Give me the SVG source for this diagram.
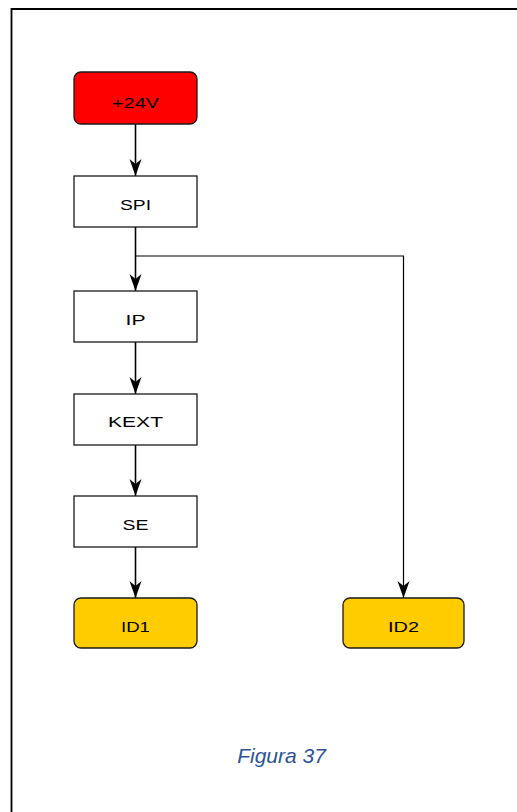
<svg xmlns="http://www.w3.org/2000/svg" width="517" height="812" viewBox="0 0 517 812">
<defs>
<style>
.box{fill:#ffffff;stroke:#1a1a1a;stroke-width:1.3}
.red{fill:#ff0000;stroke:#1a1a1a;stroke-width:1.3}
.yel{fill:#ffcc00;stroke:#1a1a1a;stroke-width:1.3}
.lbl{font-family:"Liberation Sans",Arial,sans-serif;font-size:14.5px;fill:#000;text-anchor:middle}
.edge{fill:none;stroke:#000;stroke-width:1.6}
.thin{fill:none;stroke:#000;stroke-width:1.2}
.cap{font-family:"Liberation Sans",Arial,sans-serif;font-size:21px;font-style:italic;fill:#2e5395;text-anchor:middle}
</style>
<marker id="ah" markerUnits="userSpaceOnUse" markerWidth="18" markerHeight="14" viewBox="-17 -7 18 14" refX="0" refY="0" orient="auto">
<path d="M0,0 L-17,-6 L-12,0 L-17,6 Z" fill="#000"/>
</marker>
</defs>
<rect width="517" height="812" fill="#ffffff"/>
<path d="M11.5,812 V9 H517" fill="none" stroke="#000" stroke-width="1.8"/>
<g id="connectors">
<line class="edge" x1="135.5" y1="124" x2="135.5" y2="176" marker-end="url(#ah)"/>
<line class="edge" x1="135.5" y1="227" x2="135.5" y2="291" marker-end="url(#ah)"/>
<polyline class="thin" points="136,256 403.5,256 403.5,598" marker-end="url(#ah)"/>
<line class="edge" x1="135.5" y1="342" x2="135.5" y2="394" marker-end="url(#ah)"/>
<line class="edge" x1="135.5" y1="445" x2="135.5" y2="496" marker-end="url(#ah)"/>
<line class="edge" x1="135.5" y1="547" x2="135.5" y2="598" marker-end="url(#ah)"/>
</g>
<g id="n24v"><rect class="red" x="74" y="72" width="123" height="52" rx="7"/><text class="lbl" x="135.5" y="107.5" textLength="47" lengthAdjust="spacingAndGlyphs">+24V</text></g>
<g id="spi"><rect class="box" x="74" y="176" width="123" height="51"/><text class="lbl" x="135.5" y="210" textLength="31" lengthAdjust="spacingAndGlyphs">SPI</text></g>
<g id="ip"><rect class="box" x="74" y="291" width="123" height="51"/><text class="lbl" x="135.5" y="325" textLength="20" lengthAdjust="spacingAndGlyphs">IP</text></g>
<g id="kext"><rect class="box" x="74" y="394" width="123" height="51"/><text class="lbl" x="135.5" y="427" textLength="55" lengthAdjust="spacingAndGlyphs">KEXT</text></g>
<g id="se"><rect class="box" x="74" y="496" width="123" height="51"/><text class="lbl" x="135.5" y="530" textLength="26" lengthAdjust="spacingAndGlyphs">SE</text></g>
<g id="id1"><rect class="yel" x="74" y="598" width="123" height="50" rx="7"/><text class="lbl" x="135.5" y="632" textLength="29" lengthAdjust="spacingAndGlyphs">ID1</text></g>
<g id="id2"><rect class="yel" x="343" y="598" width="121" height="50" rx="7"/><text class="lbl" x="403.5" y="632" textLength="31" lengthAdjust="spacingAndGlyphs">ID2</text></g>
<text class="cap" x="281.5" y="763">Figura 37</text>
</svg>
